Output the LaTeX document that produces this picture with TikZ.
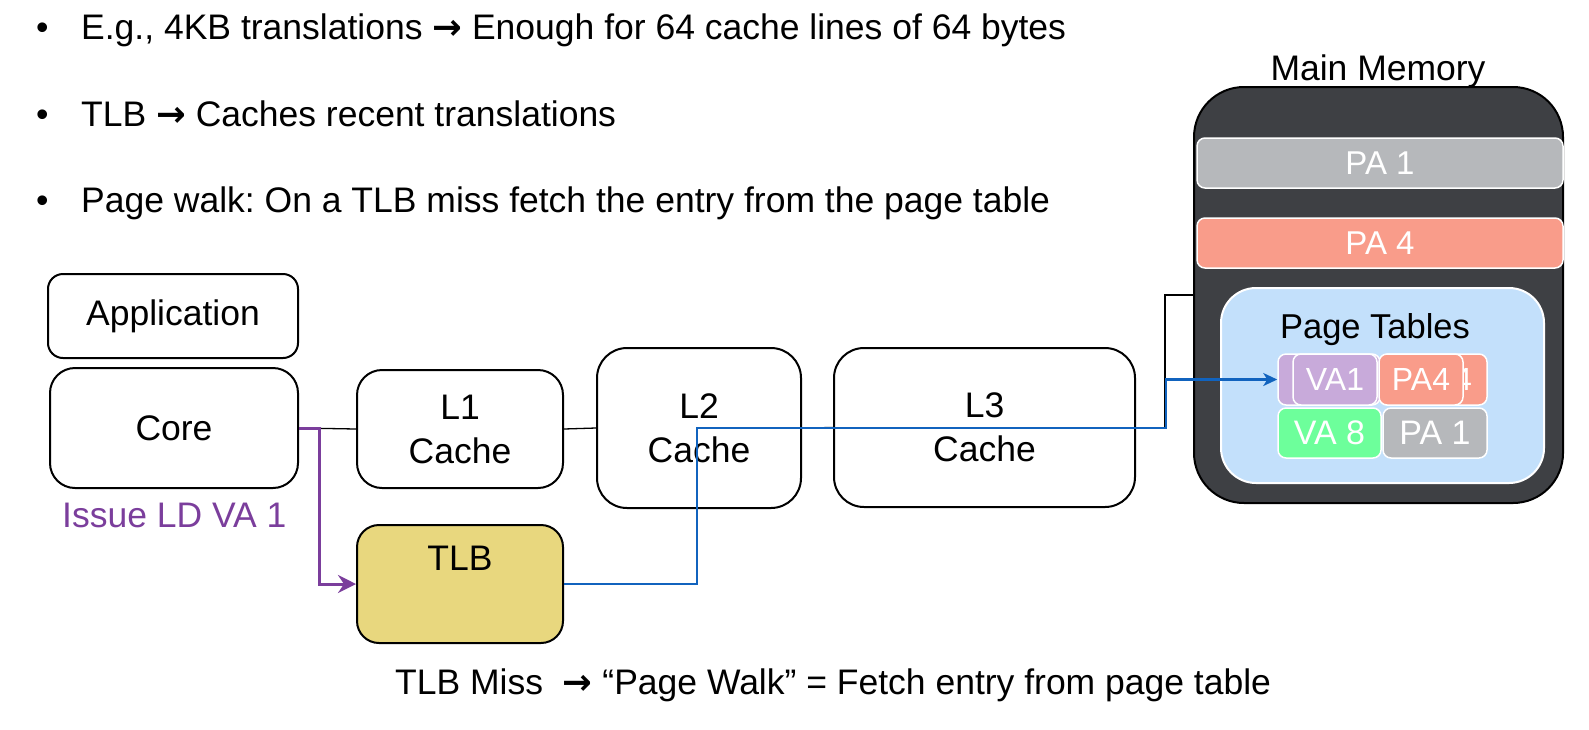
\documentclass[tikz,border=0pt]{standalone}
\usepackage{fontspec}
\setmainfont{Liberation Sans}
\newfontfamily\arrowfont{DejaVu Sans}
\newcommand{\thickarrow}{{\arrowfont\bfseries →}}
\usetikzlibrary{arrows.meta}
\definecolor{memdark}{HTML}{3E4044}
\definecolor{pagray}{HTML}{B6B8BB}
\definecolor{pasalmon}{HTML}{F99C8A}
\definecolor{ptblue}{HTML}{C3E0FB}
\definecolor{vapurple}{HTML}{C8AADA}
\definecolor{vagreen}{HTML}{6DFF9B}
\definecolor{tlbfill}{HTML}{E8D77E}
\definecolor{walkblue}{HTML}{1163BE}
\definecolor{issuepurple}{HTML}{7B3E9C}
\tikzset{
  big/.style={font=\fontsize{35.5}{44}\selectfont},
  hwbox/.style={draw=black, line width=2pt, fill=white, inner sep=0pt, align=center, big},
  membar/.style={draw=white, line width=1.5pt, rounded corners=8pt, inner sep=0pt, text=white, font=\fontsize{33}{40}\selectfont},
  entry/.style={draw=white, line width=1.5pt, rounded corners=8pt, inner sep=0pt, text=white, font=\fontsize{32}{40}\selectfont},
  conn/.style={draw=black, line width=1.3pt},
}
\frenchspacing
\begin{document}
\begin{tikzpicture}[x=1pt,y=-1pt]
\useasboundingbox (0,0) rectangle (1589,729);
% bullets
\node[big, anchor=base west, inner sep=0pt] (b1) at (36,39) {•};
\node[big, anchor=base west, inner sep=0pt] (t1) at (81,39) {E.g., 4KB translations \thickarrow{} Enough for 64 cache lines of 64 bytes};
\node[big, anchor=base west, inner sep=0pt] (b2) at (36,126) {•};
\node[big, anchor=base west, inner sep=0pt] (t2) at (81,126) {TLB \thickarrow{} Caches recent translations};
\node[big, anchor=base west, inner sep=0pt] (b3) at (36,212) {•};
\node[big, anchor=base west, inner sep=0pt] (t3) at (81,212) {Page walk: On a TLB miss fetch the entry from the page table};

% hardware boxes
\node[hwbox, rounded corners=15pt, minimum width=250pt, minimum height=84pt] (app) at (173,316) {Application};
\node[hwbox, rounded corners=25pt, minimum width=248pt, minimum height=120pt] (core) at (174,428) {Core};
\node[hwbox, rounded corners=25pt, minimum width=206pt, minimum height=118pt] (l1) at (460,429) {L1\\Cache};
\node[hwbox, rounded corners=30pt, minimum width=204pt, minimum height=160pt] (l2) at (699,428) {L2\\Cache};
\node[hwbox, rounded corners=30pt, minimum width=301pt, minimum height=159pt] (l3) at (984.5,427.5) {L3\\Cache};
\node[hwbox, rounded corners=22pt, fill=tlbfill, minimum width=206pt, minimum height=118pt] (tlb) at (460,584) {};
\node[big, anchor=base, inner sep=0pt] (tlbt) at (460,570) {TLB};
\node[big, anchor=base west, inner sep=0pt, text=issuepurple] (issue) at (62,527) {Issue LD VA 1};

% main memory
\node[big, anchor=base, inner sep=0pt] (memt) at (1378,80) {Main Memory};
\node[draw=black, line width=2pt, fill=memdark, rounded corners=50pt, minimum width=369pt, minimum height=416pt, inner sep=0pt] (mem) at (1378.5,295) {};
\node[membar, fill=pagray, minimum width=366pt, minimum height=50pt] (bar1) at (1380,163) {PA 1};
\node[membar, fill=pasalmon, minimum width=366pt, minimum height=50pt] (bar4) at (1380,243) {PA 4};
\node[draw=white, line width=2pt, fill=ptblue, rounded corners=35pt, minimum width=323pt, minimum height=195pt, inner sep=0pt] (pt) at (1382.5,385.5) {};
\node[big, anchor=base, inner sep=0pt, font=\fontsize{34.5}{40}\selectfont] (ptt) at (1375,338) {Page Tables};
\node[entry, fill=vapurple, minimum width=102pt, minimum height=51pt] (vaback) at (1329,379.5) {};
\node[entry, fill=pasalmon, minimum width=107pt, minimum height=51pt] (paback) at (1433.5,379.5) {};
\node[text=white, font=\fontsize{32}{40}\selectfont, inner sep=0pt] (pabackt) at (1463,379.5) {4};
\node[entry, fill=vapurple, minimum width=84pt, minimum height=51pt] (va1) at (1335,379.5) {VA1};
\node[entry, fill=pasalmon, minimum width=84pt, minimum height=51pt] (pa4) at (1421,379.5) {PA4};
\node[entry, fill=vagreen, minimum width=103pt, minimum height=50pt, font=\fontsize{34}{40}\selectfont] (va8) at (1329.5,433) {VA 8};
\node[entry, fill=pagray, minimum width=104pt, minimum height=50pt, font=\fontsize{34}{40}\selectfont] (pa1) at (1435,433) {PA 1};

% connectors
\draw[conn] (core.east) -- (l1.west);
\draw[conn] (l1.east) -- (l2.west);
\draw[conn] (l2.east) -- (l3.west);
\coordinate (mj) at (1165,427.5);
\draw[conn] (l3.east) -- (mj) |- (mem.west);
\coordinate (pj) at (319,428);
\draw[issuepurple, line width=3pt, -{Stealth[length=18pt,width=18pt,inset=6pt]}] (core.east) -- (pj) |- (tlb.west);
\coordinate (w1) at (697,584);
\coordinate (w2) at (1166,428);
\draw[walkblue, line width=2.2pt, -{Stealth[length=14pt,width=13pt,inset=4pt]}] (tlb.east) -- (w1) |- (w2) |- (vaback.west);

% bottom caption
\node[big, anchor=base west, inner sep=0pt] (cap) at (395,694) {TLB Miss \ \thickarrow{} “Page Walk” = Fetch entry from page table};
\end{tikzpicture}
\end{document}
